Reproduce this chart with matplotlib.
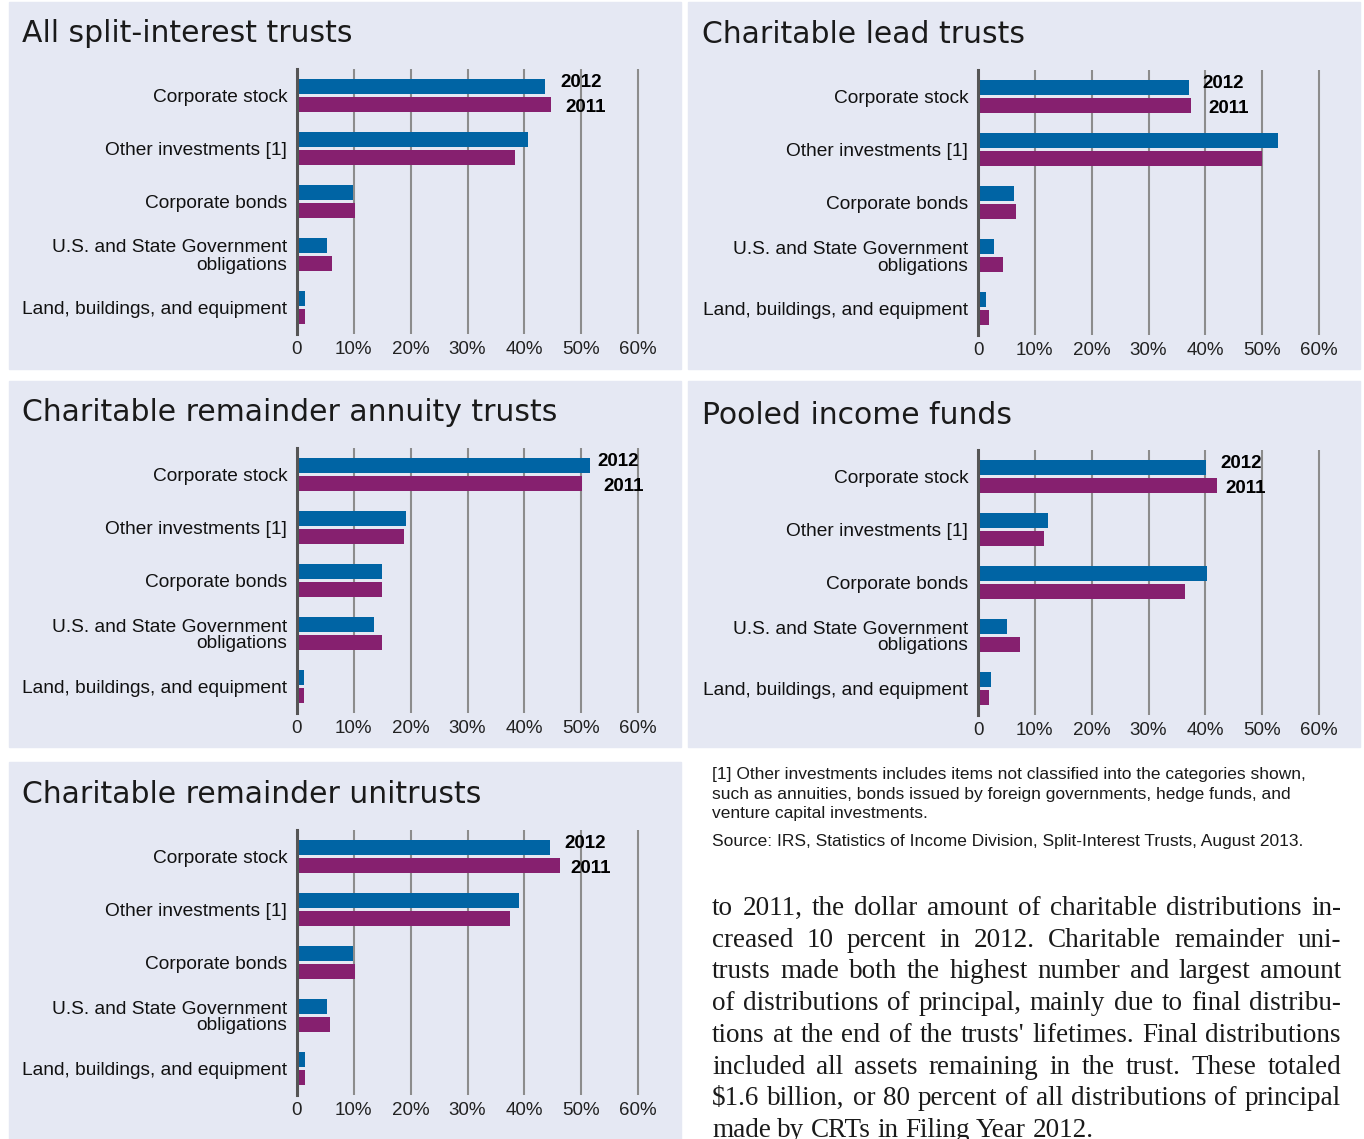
import matplotlib
matplotlib.use('Agg')
import matplotlib.pyplot as plt
from matplotlib.patches import Rectangle
import numpy as np

# 数据 (percent of total assets)
categories = ["Corporate stock", "Other investments [1]", "Corporate bonds",
              "U.S. and State Government\nobligations", "Land, buildings, and equipment"]
xticks = [0, 10, 20, 30, 40, 50, 60]
xtick_labels = ["0", "10%", "20%", "30%", "40%", "50%", "60%"]

all_2012 = [43.6, 40.6, 9.8, 5.3, 1.4]
all_2011 = [44.7, 38.3, 10.2, 6.1, 1.4]
clt_2012 = [37.1, 52.7, 6.3, 2.8, 1.4]
clt_2011 = [37.5, 50.0, 6.7, 4.4, 1.9]
crat_2012 = [51.5, 19.1, 14.9, 13.6, 1.3]
crat_2011 = [50.1, 18.8, 14.9, 14.9, 1.3]
pif_2012 = [40.1, 12.3, 40.3, 5.1, 2.2]
pif_2011 = [42.0, 11.6, 36.5, 7.4, 1.9]
crut_2012 = [44.6, 39.1, 9.8, 5.3, 1.4]
crut_2011 = [46.2, 37.4, 10.2, 5.8, 1.4]

titles = ["All split-interest trusts", "Charitable lead trusts",
          "Charitable remainder annuity trusts", "Pooled income funds",
          "Charitable remainder unitrusts"]

footnote = ["[1] Other investments includes items not classified into the categories shown,",
            "such as annuities, bonds issued by foreign governments, hedge funds, and",
            "venture capital investments."]
source = "Source: IRS, Statistics of Income Division, Split-Interest Trusts, August 2013."

body = ["to 2011, the dollar amount of charitable distributions in-",
        "creased 10 percent in 2012. Charitable remainder uni-",
        "trusts made both the highest number and largest amount",
        "of distributions of principal, mainly due to final distribu-",
        "tions at the end of the trusts' lifetimes. Final distributions",
        "included all assets remaining in the trust. These totaled",
        "$1.6 billion, or 80 percent of all distributions of principal",
        "made by CRTs in Filing Year 2012."]

W, H = 1364, 1139
BG = '#e5e8f3'
BLUE = '#0064a4'
PURPLE = '#86206f'
PX = 341 / 60.0  # pixels per percent


def fx(x):
    return x / W


def fy(y):
    return 1 - y / H


fig = plt.figure(figsize=(W / 100, H / 100), dpi=100)
fig.patch.set_facecolor('white')

# panel layout in pixels: box, axis x0, axis top, title baseline, year label x
layout = [
    dict(box=(9, 2, 681, 369), x0=297, top=69, tb=42, tx=22, lab=46.3),
    dict(box=(688, 2, 1360, 369), x0=978, top=70, tb=43, tx=702, lab=39.5),
    dict(box=(9, 381, 681, 747), x0=297, top=448, tb=421, tx=22, lab=52.9),
    dict(box=(688, 381, 1360, 747), x0=978, top=450, tb=424, tx=702, lab=42.6),
    dict(box=(9, 762, 681, 1139), x0=297, top=830, tb=803, tx=22, lab=47.1),
]
series = [(all_2012, all_2011), (clt_2012, clt_2011), (crat_2012, crat_2011),
          (pif_2012, pif_2011), (crut_2012, crut_2011)]

y = np.arange(len(categories))
for p, (v12, v11), title in zip(layout, series, titles):
    l, t, r, b = p['box']
    fig.add_artist(Rectangle((fx(l), fy(b)), (r - l) / W, (b - t) / H,
                             transform=fig.transFigure, color=BG, zorder=0))
    fig.text(fx(p['tx']), fy(p['tb']), title, fontsize=21.5, family='DejaVu Sans',
             va='baseline', color='#1a1a1a')

    ax = fig.add_axes([fx(p['x0']), fy(p['top'] + 265), 61 * PX / W, 265 / H])
    ax.set_facecolor('none')
    ax.barh(y - 0.17, v12, height=0.30, color=BLUE, zorder=3)
    ax.barh(y + 0.17, v11, height=0.30, color=PURPLE, zorder=3)
    ax.set_xlim(0, 61)
    ax.set_ylim(4.5, -0.5)
    ax.set_xticks(xticks)
    ax.set_xticklabels(xtick_labels, fontsize=13.5, family='Liberation Sans', color='#222222')
    ax.set_yticks(y)
    ax.set_yticklabels(categories, fontsize=13.8, family='Liberation Sans', color='#111111',
                       linespacing=1.0)
    ax.tick_params(axis='x', length=0, pad=5)
    ax.tick_params(axis='y', length=0, pad=7)
    ax.grid(axis='x', color='#8c8c8c', lw=1.5, zorder=1)
    ax.set_axisbelow(True)
    for s in ['top', 'right', 'bottom']:
        ax.spines[s].set_visible(False)
    ax.spines['left'].set_color('#555555')
    ax.spines['left'].set_linewidth(2.2)
    ax.spines['left'].set_zorder(4)
    ax.text(p['lab'], -0.24, '2012', fontsize=13.5, fontweight='bold', family='Liberation Sans',
            va='center', ha='left', zorder=5)
    ax.text(p['lab'] + 1.0, 0.22, '2011', fontsize=13.5, fontweight='bold', family='Liberation Sans',
            va='center', ha='left', zorder=5)

# footnote and source
foot_font = ['Liberation Sans Narrow', 'Liberation Sans']
for i, line in enumerate(footnote):
    fig.text(fx(712), fy(779 + 19.6 * i), line, fontsize=12.5, family=foot_font,
             va='baseline', color='#1a1a1a')
fig.text(fx(712), fy(846), source, fontsize=12.5, family=foot_font, va='baseline', color='#1a1a1a')

# justified body text
renderer = fig.canvas.get_renderer()
left, right = 712, 1341
for i, line in enumerate(body):
    yb = fy(915 + 31.7 * i)
    words = line.split(' ')
    texts = [fig.text(fx(left), yb, w, fontsize=19.5, family='Liberation Serif', va='baseline',
                      color='#1a1a1a', parse_math=False) for w in words]
    widths = [tx.get_window_extent(renderer).width for tx in texts]
    if i < len(body) - 1:
        gap = (right - left - sum(widths)) / (len(words) - 1)
    else:
        gap = 6.5
    x = left
    for tx, wd in zip(texts, widths):
        tx.set_x(fx(x))
        x += wd + gap

fig.savefig('out.png', dpi=100, facecolor='white')
